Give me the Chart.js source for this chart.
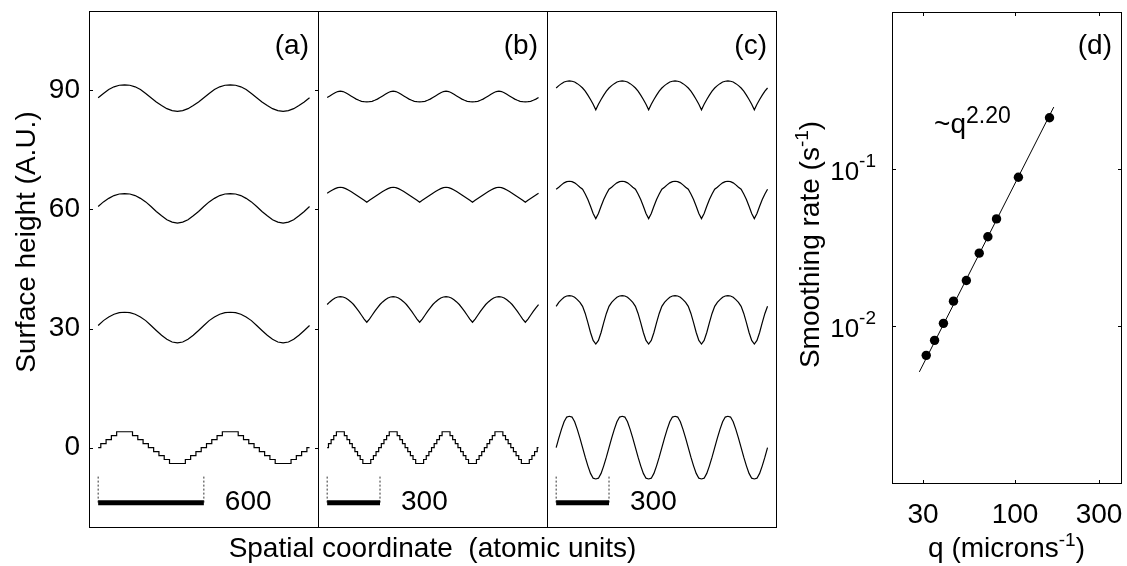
<!DOCTYPE html>
<html>
<head>
<meta charset="utf-8">
<title>Surface smoothing</title>
<script src="https://cdn.jsdelivr.net/npm/chart.js@4.4.1/dist/chart.umd.min.js"></script>
<style>
  html, body { margin: 0; padding: 0; background: #fff; }
  #fig { position: relative; width: 1127px; height: 566px; overflow: hidden; }
  #fig canvas { position: absolute; left: 0; top: 0; }
</style>
</head>
<body>
<div id="fig">
  <canvas id="panelA" width="1127" height="566"></canvas>
  <canvas id="panelB" width="1127" height="566"></canvas>
  <canvas id="panelC" width="1127" height="566"></canvas>
  <canvas id="panelD" width="1127" height="566"></canvas>
</div>
<script>
/* global Chart */

// Surface profiles, one period each, height relative to the curve's baseline.
// (a): period 600, a value every 30 units. (b), (c): period 300, every 15 units.
var baselines = [0, 30, 60, 90];
var heightTicks = [0, 30, 60, 90];

var profA0  = [0, 1, 2, 3, 4, 4, 4, 3, 2, 1, 0, -1, -2, -3, -4, -4, -4, -3, -2, -1];
var profA30 = [0.75, 2.0, 2.9, 3.6, 4.0, 4.1, 4.0, 3.6, 2.9, 2.0, 0.75, -0.5, -1.7, -2.7, -3.4, -3.6, -3.4, -2.7, -1.7, -0.5];
var profA60 = [0.75, 1.9, 2.8, 3.5, 3.9, 4.0, 3.9, 3.5, 2.8, 1.9, 0.75, -0.5, -1.6, -2.6, -3.2, -3.45, -3.2, -2.6, -1.6, -0.5];
var profA90 = [-1.85, -0.8, 0.2, 0.9, 1.3, 1.4, 1.3, 0.9, 0.2, -0.8, -1.85, -2.9, -3.8, -4.6, -5.1, -5.3, -5.1, -4.6, -3.8, -2.9];

var profB0  = [0, 1, 2, 3, 4, 4, 4, 3, 2, 1, 0, -1, -2, -3, -4, -4, -4, -3, -2, -1];
var profB30 = [6.05, 6.7, 7.25, 7.7, 7.95, 8.05, 7.95, 7.7, 7.25, 6.7, 6.05, 5.2, 4.3, 3.35, 2.4, 1.6, 2.4, 3.35, 4.3, 5.2];
var profB60 = [4.1, 4.5, 4.9, 5.25, 5.5, 5.6, 5.5, 5.25, 4.9, 4.5, 4.1, 3.65, 3.2, 2.75, 2.3, 1.8, 2.3, 2.75, 3.2, 3.65];
var profB90 = [-1.8, -1.4, -1.0, -0.6, -0.3, -0.2, -0.3, -0.6, -1.0, -1.4, -1.8, -2.2, -2.5, -2.75, -2.85, -2.9, -2.85, -2.75, -2.5, -2.2];

var profC0  = [0, 2.4, 4.6, 6.5, 7.7, 7.9, 7.7, 6.5, 4.6, 2.4, 0, -2.4, -4.6, -6.5, -7.7, -7.9, -7.7, -6.5, -4.6, -2.4];
var profC30 = [5.6, 6.6, 7.3, 7.9, 8.2, 8.3, 8.2, 7.9, 7.3, 6.6, 5.6, 3.8, 1.5, -1.0, -3.0, -3.9, -3.0, -1.0, 1.5, 3.8];
var profC60 = [5.1, 5.6, 6.2, 6.7, 7.0, 7.1, 7.0, 6.7, 6.2, 5.6, 5.1, 3.9, 2.5, 0.8, -1.0, -2.3, -1.0, 0.8, 2.5, 3.9];
var profC90 = [0.6, 1.2, 1.7, 2.1, 2.3, 2.4, 2.3, 2.1, 1.7, 1.2, 0.6, -0.2, -1.2, -2.3, -3.5, -4.9, -3.5, -2.3, -1.2, -0.2];

var scaleBars = [600, 300, 300];

// Panel (d): smoothing rate vs wave vector
var qMicrons = [31.3, 34.9, 39.2, 44.7, 52.9, 62.6, 70.1, 78.5, 104.5, 157];
var smoothRate = [0.0065, 0.0081, 0.0104, 0.0144, 0.0195, 0.0291, 0.037, 0.0481, 0.0886, 0.212];
var fitQ = [28.6, 166];
var fitRate = [0.0051, 0.248];
var fitExponent = "2.20";
var qTicks = [30, 100, 300];
var rateTicks = [0.01, 0.1];
var rateTickExp = ["-2", "-1"];

// ---- layout / style ----
var FONT = "'Liberation Sans', Arial, Helvetica, sans-serif";
var PROFILE_SPAN = 1200;
var BAR_Y = -13.9;        // scale bar height (data units)
var BAR_TOP = -7.3;       // top of the dashed end marks
var BAR_LABEL_Y = -15.6;  // baseline of the scale bar label
var TICK = 4;

Chart.defaults.font.family = FONT;
Chart.defaults.color = "#000";

function part(text, size, rise) {
  return { text: text, size: size, rise: rise || 0 };
}

function drawRich(ctx, t) {
  ctx.save();
  ctx.translate(t.x, t.y);
  if (t.rotate) ctx.rotate(t.rotate);
  var w = 0;
  t.parts.forEach(function (p) {
    ctx.font = p.size + "px " + FONT;
    p.w = ctx.measureText(p.text).width;
    w += p.w;
  });
  var cx = t.align === "center" ? -w / 2 : (t.align === "right" ? -w : 0);
  ctx.textAlign = "left";
  ctx.textBaseline = "alphabetic";
  ctx.fillStyle = "#000";
  t.parts.forEach(function (p) {
    ctx.font = p.size + "px " + FONT;
    ctx.fillText(p.text, cx, -p.rise);
    cx += p.w;
  });
  ctx.restore();
}

// frame, inward ticks and text for one panel
function makeDecor(spec) {
  return {
    id: "decor",
    afterDraw: function (chart) {
      var ctx = chart.ctx, a = chart.chartArea;
      var xs = chart.scales.x, ys = chart.scales.y;
      ctx.save();
      ctx.strokeStyle = "#000";
      ctx.lineWidth = 1;
      ctx.strokeRect(a.left + 0.5, a.top + 0.5, a.right - a.left, a.bottom - a.top);
      ctx.beginPath();
      (spec.yTicks || []).forEach(function (v) {
        var y = Math.round(ys.getPixelForValue(v)) + 0.5;
        ctx.moveTo(a.left, y); ctx.lineTo(a.left + TICK, y);
        ctx.moveTo(a.right + 1, y); ctx.lineTo(a.right + 1 - TICK, y);
      });
      (spec.xTicks || []).forEach(function (v) {
        var x = Math.round(xs.getPixelForValue(v)) + 0.5;
        ctx.moveTo(x, a.top); ctx.lineTo(x, a.top + TICK);
        ctx.moveTo(x, a.bottom + 1); ctx.lineTo(x, a.bottom + 1 - TICK);
      });
      ctx.stroke();
      spec.texts(chart).forEach(function (t) { drawRich(ctx, t); });
      ctx.restore();
    }
  };
}

function profilePoints(profile, step, base) {
  var pts = [];
  for (var i = 0; i * step <= PROFILE_SPAN; i++) {
    pts.push({ x: i * step, y: base + profile[i % profile.length] });
  }
  return pts;
}

function panelDatasets(profiles, step, stairs, barLen) {
  var sets = profiles.map(function (p, k) {
    return {
      data: profilePoints(p, step, baselines[k]),
      borderColor: "#000",
      borderWidth: 1.2,
      pointRadius: 0,
      stepped: (k === 0 && stairs) ? "middle" : false
    };
  });
  sets.push({
    data: [{ x: 0, y: BAR_Y }, { x: barLen, y: BAR_Y }],
    borderColor: "#000", borderWidth: 5, borderCapStyle: "butt", pointRadius: 0
  });
  [0, barLen].forEach(function (x) {
    sets.push({
      data: [{ x: x, y: BAR_TOP }, { x: x, y: BAR_Y }],
      borderColor: "#333", borderWidth: 1, borderDash: [2, 2], pointRadius: 0
    });
  });
  return sets;
}

function profilePanel(id, cfg) {
  var yAxis = { min: -20, max: 110, display: false };
  if (cfg.showHeightAxis) {
    yAxis = {
      min: -20, max: 110, display: true, position: "left",
      afterBuildTicks: function (s) {
        s.ticks = heightTicks.map(function (v) { return { value: v }; });
      },
      afterFit: function (s) { s.width = 89; s.paddingTop = 0; s.paddingBottom = 0; },
      grid: { display: false, drawTicks: false },
      border: { display: false },
      ticks: { font: { size: 28 }, color: "#000", padding: 9 }
    };
  }
  return new Chart(document.getElementById(id), {
    type: "line",
    data: { datasets: panelDatasets(cfg.profiles, cfg.step, cfg.stairs, cfg.barLen) },
    options: {
      responsive: false,
      animation: false,
      devicePixelRatio: 1,
      events: [],
      layout: { autoPadding: false, padding: cfg.padding },
      plugins: { legend: { display: false }, tooltip: { enabled: false } },
      scales: {
        x: { type: "linear", display: false, min: -52, max: 1248 },
        y: yAxis
      }
    },
    plugins: [makeDecor({
      yTicks: cfg.showHeightAxis ? heightTicks : [],
      texts: function (chart) {
        var a = chart.chartArea, xs = chart.scales.x, ys = chart.scales.y;
        var out = [
          { parts: [part(cfg.letter, 28)], x: a.right - 9, y: a.top + 43, align: "right" },
          { parts: [part(String(cfg.barLen), 28)], x: xs.getPixelForValue(cfg.barLen) + 21,
            y: ys.getPixelForValue(BAR_LABEL_Y), align: "left" }
        ];
        return out.concat(cfg.extraTexts ? cfg.extraTexts(chart) : []);
      }
    })]
  });
}

profilePanel("panelA", {
  profiles: [profA0, profA30, profA60, profA90], step: 30, stairs: true,
  barLen: scaleBars[0], letter: "(a)", showHeightAxis: true,
  padding: { left: 0, right: 1127 - 318, top: 11, bottom: 566 - 527 },
  extraTexts: function (chart) {
    var a = chart.chartArea;
    return [{ parts: [part("Surface height (A.U.)", 28)], x: a.left - 54,
      y: (a.top + a.bottom) / 2 - 27, align: "center", rotate: -Math.PI / 2 }];
  }
});

profilePanel("panelB", {
  profiles: [profB0, profB30, profB60, profB90], step: 15, stairs: true,
  barLen: scaleBars[1], letter: "(b)",
  padding: { left: 318, right: 1127 - 547, top: 11, bottom: 566 - 527 },
  extraTexts: function (chart) {
    var a = chart.chartArea;
    return [{ parts: [part("Spatial coordinate  (atomic units)", 28)],
      x: (a.left + a.right) / 2, y: a.bottom + 30, align: "center" }];
  }
});

profilePanel("panelC", {
  profiles: [profC0, profC30, profC60, profC90], step: 15, stairs: false,
  barLen: scaleBars[2], letter: "(c)",
  padding: { left: 547, right: 1127 - 776, top: 11, bottom: 566 - 527 }
});

// ---- panel (d) ----
new Chart(document.getElementById("panelD"), {
  type: "scatter",
  data: {
    datasets: [
      {
        data: qMicrons.map(function (q, i) { return { x: q, y: smoothRate[i] }; }),
        pointRadius: 4.7,
        pointBackgroundColor: "#000",
        pointBorderColor: "#000",
        pointBorderWidth: 0
      },
      {
        type: "line",
        data: fitQ.map(function (q, i) { return { x: q, y: fitRate[i] }; }),
        borderColor: "#000",
        borderWidth: 1,
        pointRadius: 0
      }
    ]
  },
  options: {
    responsive: false,
    animation: false,
    devicePixelRatio: 1,
    events: [],
    layout: { autoPadding: false, padding: { left: 892, right: 1127 - 1121, top: 12, bottom: 0 } },
    plugins: { legend: { display: false }, tooltip: { enabled: false } },
    scales: {
      x: {
        type: "logarithmic", position: "bottom", min: 20, max: 400,
        afterBuildTicks: function (s) {
          s.ticks = qTicks.map(function (v) { return { value: v }; });
        },
        afterFit: function (s) { s.height = 83; s.paddingLeft = 0; s.paddingRight = 0; },
        grid: { display: false, drawTicks: false },
        border: { display: false },
        ticks: {
          font: { size: 28 }, color: "#000", padding: 15, autoSkip: false, maxRotation: 0,
          callback: function (v) { return String(v); }
        }
      },
      y: { type: "logarithmic", min: 0.001, max: 1, display: false }
    }
  },
  plugins: [makeDecor({
    xTicks: qTicks,
    yTicks: rateTicks,
    texts: function (chart) {
      var a = chart.chartArea, xs = chart.scales.x, ys = chart.scales.y;
      var out = [
        { parts: [part("(d)", 28)], x: a.right - 9, y: a.top + 42, align: "right" },
        { parts: [part("~q", 28), part(fitExponent, 23, 10)],
          x: xs.getPixelForValue(34.7), y: ys.getPixelForValue(0.169), align: "left" },
        { parts: [part("Smoothing rate (s", 28), part("-1", 19, 11), part(")", 28)],
          x: a.left - 73, y: (a.top + a.bottom) / 2 - 3, align: "center", rotate: -Math.PI / 2 },
        { parts: [part("q (microns", 28), part("-1", 19, 11), part(")", 28)],
          x: (a.left + a.right) / 2, y: a.bottom + 74, align: "center" }
      ];
      rateTicks.forEach(function (v, i) {
        out.push({ parts: [part("10", 26), part(rateTickExp[i], 19, 13)],
          x: a.left - 16, y: ys.getPixelForValue(v) + 11, align: "right" });
      });
      return out;
    }
  })]
});
</script>
</body>
</html>
